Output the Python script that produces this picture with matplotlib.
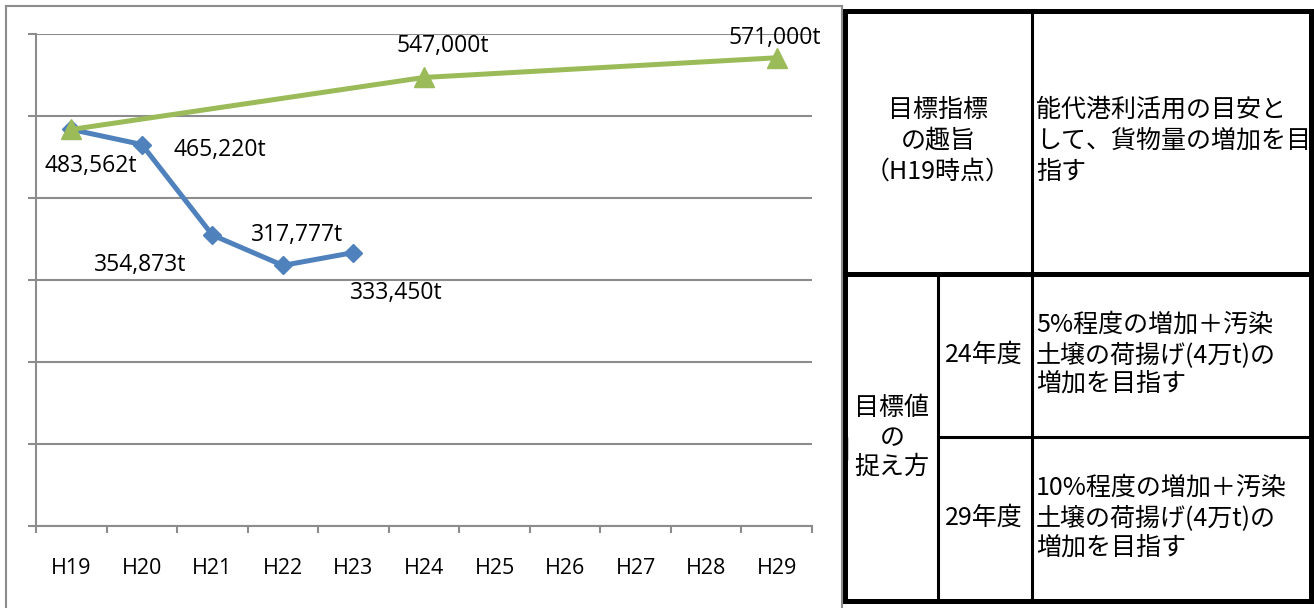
import matplotlib
matplotlib.use('Agg')
import matplotlib.pyplot as plt
from matplotlib.patches import Rectangle
import numpy as np

# ---- data ----
years = ['H19', 'H20', 'H21', 'H22', 'H23', 'H24', 'H25', 'H26', 'H27', 'H28', 'H29']
actual_idx = [0, 1, 2, 3, 4]
actual = [483562, 465220, 354873, 317777, 333450]
target_idx = [0, 5, 10]
target = [483562, 547000, 571000]

# label offsets (pixels) for each point's value label
actual_off = [(19, -37), (78, -5), (-72, -30), (14, 30), (43, -40)]
target_off = [None, (19, 31), (-2, 20)]

# table text
head_purpose = ['目標指標', 'の趣旨', '（H19時点）']
body_purpose = ['能代港利活用の目安と', 'して、貨物量の増加を目', '指す']
head_value = ['目標値', 'の', '捉え方']
years_value = ['24年度', '29年度']
body_value = [['5%程度の増加＋汚染', '土壌の荷揚げ(4万t)の', '増加を目指す'],
              ['10%程度の増加＋汚染', '土壌の荷揚げ(4万t)の', '増加を目指す']]

W, H = 1314, 608
fig = plt.figure(figsize=(W / 100, H / 100), dpi=100)

def fx(px):
    return px / W

def fy(py):
    return 1 - py / H

GRID = '#8c8c8c'
BLUE = '#4f81bd'
GREEN = '#9bbb59'
CHART_FONT = 'Open Sans'

# ---- line chart ----
ax = fig.add_axes([fx(36), fy(526), fx(812) - fx(36), fy(34) - fy(526)])
ax.set_xlim(-0.5, len(years) - 0.5)
ax.set_ylim(0, 600000)
ax.set_yticks(np.arange(0, 600001, 100000))
ax.set_yticklabels([])
ax.yaxis.grid(True, color=GRID, lw=1.5)
ax.set_axisbelow(True)
for s in ['top', 'right']:
    ax.spines[s].set_visible(False)
for s in ['left', 'bottom']:
    ax.spines[s].set_color(GRID)
    ax.spines[s].set_linewidth(1.5)
ax.tick_params(axis='y', direction='out', length=6, width=1.5, color=GRID)
ax.set_xticks(range(len(years)))
ax.set_xticklabels(years, fontsize=15.5, family=CHART_FONT)
ax.set_xticks(np.arange(-0.5, len(years), 1), minor=True)
ax.tick_params(axis='x', which='major', length=0, pad=23)
ax.tick_params(axis='x', which='minor', direction='out', length=5, width=1.5, color=GRID)

ax.plot(actual_idx, actual, color=BLUE, lw=3.6, marker='D', ms=9.5, zorder=3, clip_on=False)
ax.plot(target_idx, target, color=GREEN, lw=3.6, marker='^', ms=14, zorder=4, clip_on=False)

for i, v, off in zip(actual_idx, actual, actual_off):
    ax.annotate(f'{v:,}t', (i, v), xytext=off, textcoords='offset pixels',
                ha='center', va='center', fontsize=16.5, family=CHART_FONT, zorder=5)
for i, v, off in zip(target_idx, target, target_off):
    if off is None:
        continue
    ax.annotate(f'{v:,}t', (i, v), xytext=off, textcoords='offset pixels',
                ha='center', va='center', fontsize=16.5, family=CHART_FONT, zorder=5)

# ---- overlay in pixel coordinates: chart frame + table ----
ov = fig.add_axes([0, 0, 1, 1], facecolor='none')
ov.set_xlim(0, W)
ov.set_ylim(H, 0)
ov.axis('off')

# chart outer frame (bottom edge runs off the picture)
ov.plot([6, 6, 842, 842], [H, 6, 6, H], color=GRID, lw=1.5, solid_joinstyle='miter')
ov.add_patch(Rectangle((843, 437), 4, 23, color='black'))

# table grid
ov.add_patch(Rectangle((845, 10.5), 1311 - 845, 601 - 10.5, fill=False, ec='black', lw=3.6,
                       joinstyle='miter'))
ov.plot([845, 1311], [274, 274], color='black', lw=3.6)
ov.plot([1031.5, 1031.5], [10.5, 601], color='black', lw=2.2)
ov.plot([937.5, 937.5], [274, 601], color='black', lw=2.2)
ov.plot([937.5, 1311], [436.5, 436.5], color='black', lw=2.2)

TFONT = ['Noto Sans CJK JP', 'DejaVu Sans']
TS = 18

def lines(texts, x, ys, ha):
    for t, y in zip(texts, ys):
        ov.text(x, y, t, ha=ha, va='center', fontsize=TS, family=TFONT)

lines(head_purpose, 938, [110, 141, 172], 'center')
lines(body_purpose, 1036, [110, 141, 172], 'left')
lines(head_value, 892, [408, 438, 467], 'center')
lines(years_value, 984, [355, 518], 'center')
lines(body_value[0], 1036, [325, 355, 384], 'left')
lines(body_value[1], 1036, [488, 518, 548], 'left')

fig.savefig('out.png', dpi=100)
